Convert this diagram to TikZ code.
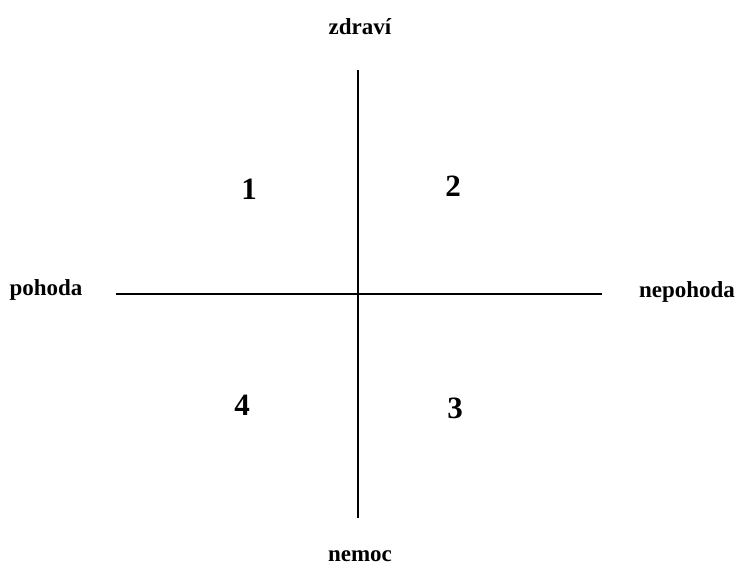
\documentclass[tikz,border=0pt]{standalone}
\usepackage{fontspec}
\setmainfont{Liberation Serif}
\begin{document}
\begin{tikzpicture}[x=1pt,y=-1pt,
  lbl/.style={font=\fontsize{23}{26}\selectfont\bfseries, inner sep=0pt},
  num/.style={font=\fontsize{31}{34}\selectfont\bfseries, inner sep=0pt},
  axis/.style={draw=black, line width=1.3pt}]
\useasboundingbox (0,0) rectangle (738,567);
\coordinate (top) at (358,70);
\coordinate (bot) at (358,518);
\coordinate (lft) at (116,294);
\coordinate (rgt) at (602,294);
\draw[axis] (top) -- (bot);
\draw[axis] (lft) -- (rgt);
\node[lbl] (zdravi) at (360,27) {zdraví};
\node[lbl] (pohoda) at (46,290) {pohoda};
\node[lbl] (nepohoda) at (687,292) {nepohoda};
\node[lbl] (nemoc) at (360,556) {nemoc};
\node[num] (q1) at (249,189) {1};
\node[num] (q2) at (453,186) {2};
\node[num] (q3) at (455,408) {3};
\node[num] (q4) at (242,405) {4};
\end{tikzpicture}
\end{document}
